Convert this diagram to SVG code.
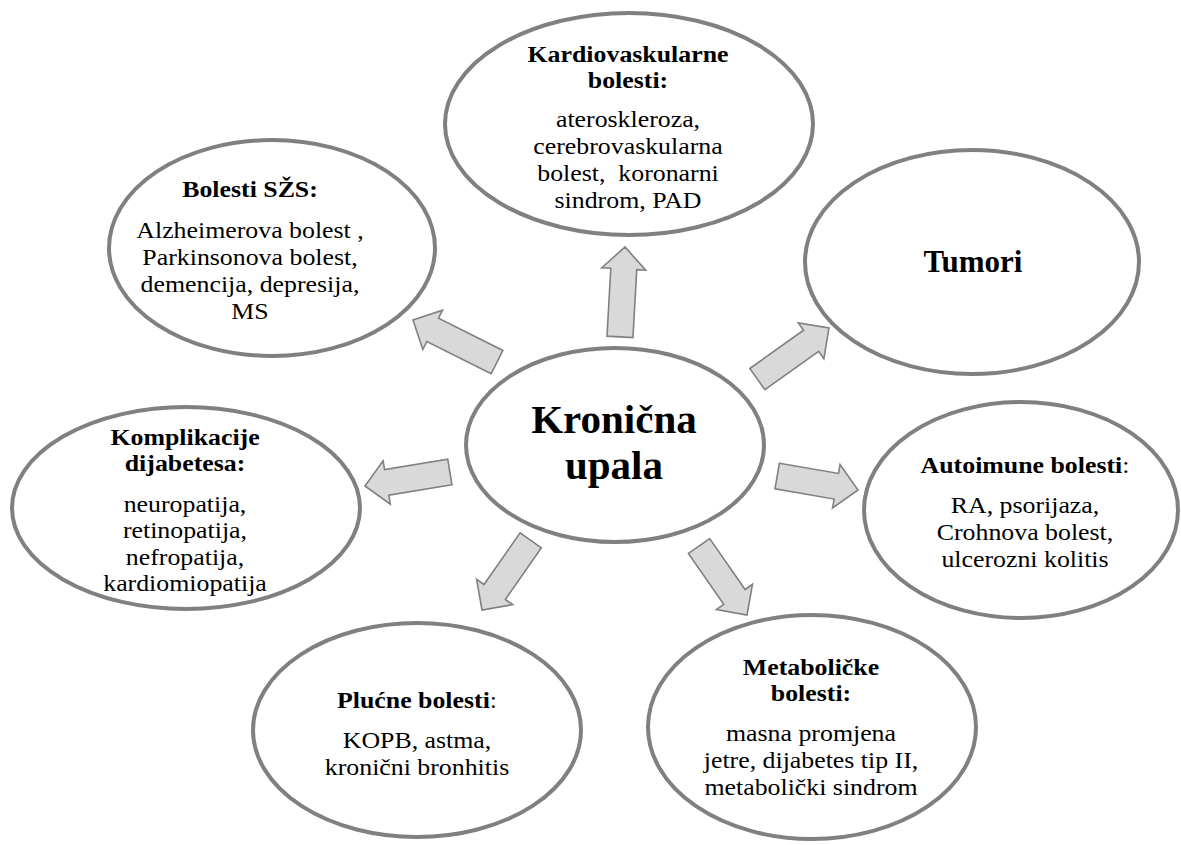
<svg xmlns="http://www.w3.org/2000/svg" width="1181" height="845" viewBox="0 0 1181 845">
<style>
.el{fill:#ffffff;stroke:#808080;stroke-width:4}
.ar{fill:#d9d9d9;stroke:#808080;stroke-width:1.6}
text{font-family:"Liberation Serif","Times New Roman",serif;fill:#000;text-anchor:middle;font-size:23.5px;white-space:pre}
.h{font-weight:bold}
</style>
<rect width="1181" height="845" fill="#ffffff"/>
<g id="connectors">
<g transform="translate(625,247) rotate(-86.8)"><polygon class="ar" points="-90,-13 -22,-13 -22,-22 0,0 -22,22 -22,13 -90,13"/></g>
<g transform="translate(829,328) rotate(-35.5)"><polygon class="ar" points="-88,-13 -22,-13 -22,-22 0,0 -22,22 -22,13 -88,13"/></g>
<g transform="translate(413,320) rotate(-153.4)"><polygon class="ar" points="-94,-13 -22,-13 -22,-22 0,0 -22,22 -22,13 -94,13"/></g>
<g transform="translate(365,486) rotate(170.6)"><polygon class="ar" points="-86,-13 -22,-13 -22,-22 0,0 -22,22 -22,13 -86,13"/></g>
<g transform="translate(858,490) rotate(9.8)"><polygon class="ar" points="-82,-13 -22,-13 -22,-22 0,0 -22,22 -22,13 -82,13"/></g>
<g transform="translate(482,610) rotate(125)"><polygon class="ar" points="-85,-13 -22,-13 -22,-22 0,0 -22,22 -22,13 -85,13"/></g>
<g transform="translate(747,615) rotate(55.2)"><polygon class="ar" points="-84,-13 -22,-13 -22,-22 0,0 -22,22 -22,13 -84,13"/></g>
</g>
<g id="center">
<ellipse class="el" cx="615" cy="445" rx="149" ry="97"/>
<text class="h" style="font-size:41px"><tspan x="614" y="433">Kronična</tspan><tspan x="614" y="479">upala</tspan></text>
</g>
<g id="kardio">
<ellipse class="el" cx="629" cy="124" rx="184" ry="111"/>
<text transform="translate(628 0) scale(1.1 1)"><tspan class="h" x="0" y="62">Kardiovaskularne</tspan><tspan class="h" x="0" y="88">bolesti:</tspan><tspan x="0" y="127">ateroskleroza,</tspan><tspan x="0" y="154">cerebrovaskularna</tspan><tspan x="0" y="181">bolest,  koronarni</tspan><tspan x="0" y="208">sindrom, PAD</tspan></text>
</g>
<g id="tumori">
<ellipse class="el" cx="972" cy="262" rx="167" ry="112"/>
<text class="h" x="973" y="272" style="font-size:31px">Tumori</text>
</g>
<g id="szs">
<ellipse class="el" cx="272" cy="248" rx="163" ry="108"/>
<text transform="translate(250 0) scale(1.1 1)"><tspan class="h" x="0" y="197">Bolesti SŽS:</tspan><tspan x="0" y="238">Alzheimerova bolest ,</tspan><tspan x="0" y="265">Parkinsonova bolest,</tspan><tspan x="0" y="292">demencija, depresija,</tspan><tspan x="0" y="319">MS</tspan></text>
</g>
<g id="komplikacije">
<ellipse class="el" cx="186" cy="508" rx="174" ry="101"/>
<text transform="translate(185 0) scale(1.1 1)"><tspan class="h" x="0" y="445">Komplikacije</tspan><tspan class="h" x="0" y="471">dijabetesa:</tspan><tspan x="0" y="512">neuropatija,</tspan><tspan x="0" y="538.5">retinopatija,</tspan><tspan x="0" y="565">nefropatija,</tspan><tspan x="0" y="591.5">kardiomiopatija</tspan></text>
</g>
<g id="autoimune">
<ellipse class="el" cx="1021" cy="510" rx="157" ry="108"/>
<text transform="translate(1025 0) scale(1.1 1)"><tspan x="0" y="473"><tspan class="h">Autoimune bolesti</tspan>:</tspan><tspan x="0" y="513">RA, psorijaza,</tspan><tspan x="0" y="540">Crohnova bolest,</tspan><tspan x="0" y="567">ulcerozni kolitis</tspan></text>
</g>
<g id="plucne">
<ellipse class="el" cx="417" cy="730" rx="164" ry="107"/>
<text transform="translate(417 0) scale(1.1 1)"><tspan x="0" y="708"><tspan class="h">Plućne bolesti</tspan>:</tspan><tspan x="0" y="748">KOPB, astma,</tspan><tspan x="0" y="775">kronični bronhitis</tspan></text>
</g>
<g id="metabolicke">
<ellipse class="el" cx="812" cy="727" rx="164" ry="112"/>
<text transform="translate(811 0) scale(1.1 1)"><tspan class="h" x="0" y="675">Metaboličke</tspan><tspan class="h" x="0" y="701">bolesti:</tspan><tspan x="0" y="741">masna promjena</tspan><tspan x="0" y="768">jetre, dijabetes tip II,</tspan><tspan x="0" y="795">metabolički sindrom</tspan></text>
</g>
</svg>
